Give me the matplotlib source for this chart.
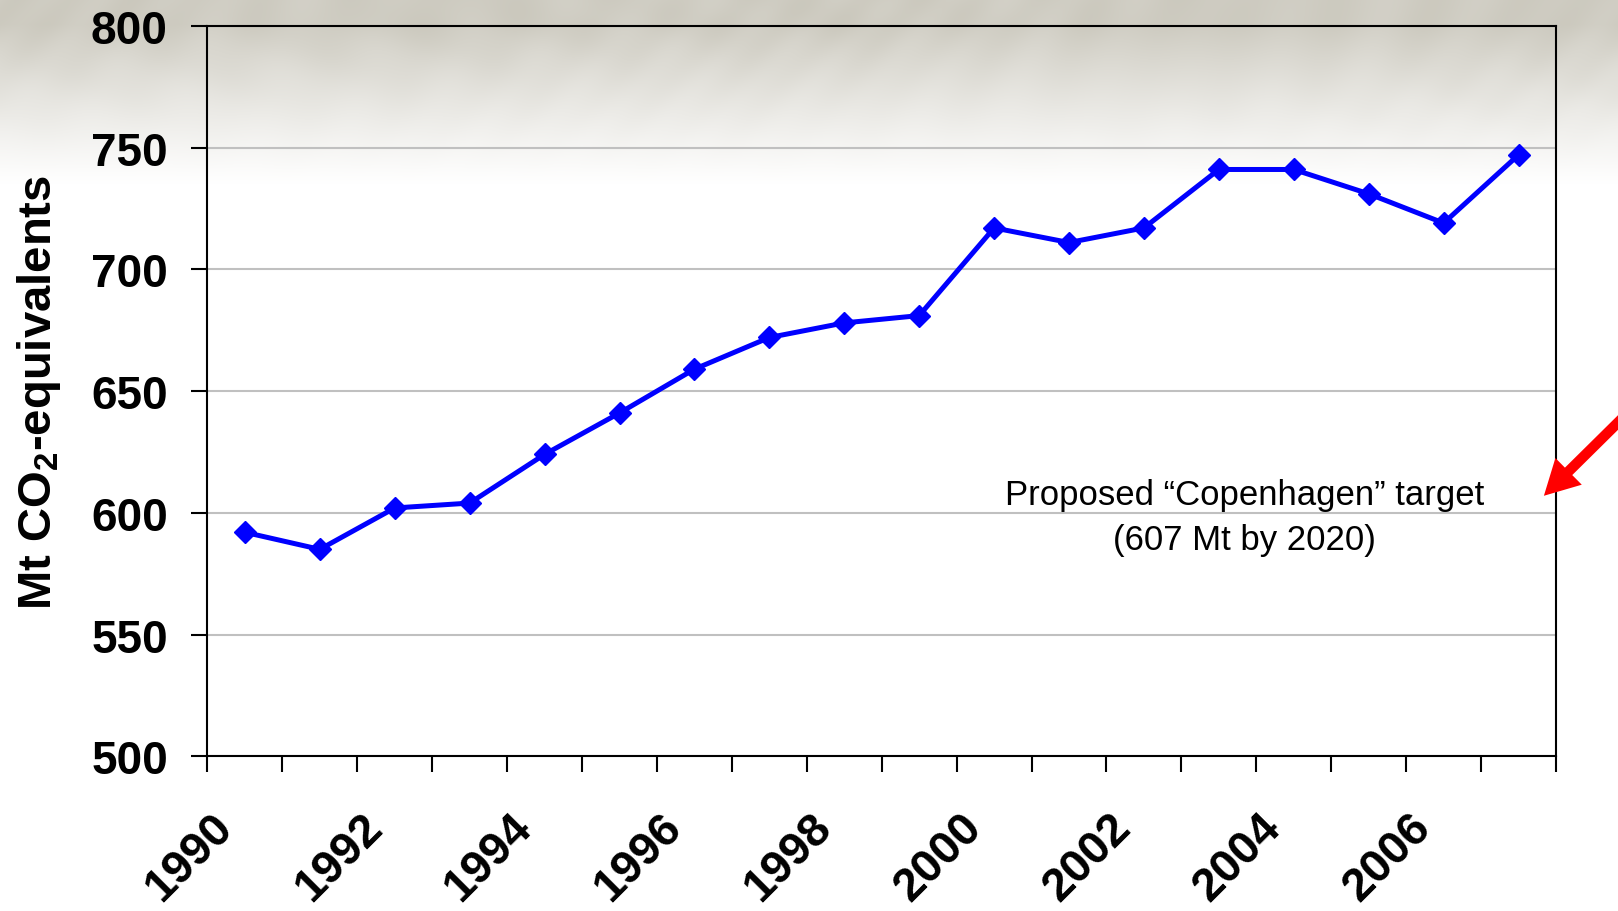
import matplotlib
matplotlib.use('Agg')
import matplotlib.pyplot as plt
import matplotlib.transforms as mtransforms
from matplotlib import font_manager
import numpy as np

# 排放数据 (Mt CO2 当量)
years = list(range(1990, 2008))
emissions = [592, 585, 602, 604, 624, 641, 659, 672, 678, 681,
             717, 711, 717, 741, 741, 731, 719, 747]
y_ticks = [500, 550, 600, 650, 700, 750, 800]
target_value = 607
target_text = 'Proposed \u201cCopenhagen\u201d target\n(607 Mt by 2020)'

plt.rcParams['font.family'] = ['Liberation Sans', 'DejaVu Sans']
plt.rcParams['font.weight'] = 'bold'
plt.rcParams['mathtext.fontset'] = 'custom'
plt.rcParams['mathtext.rm'] = 'Liberation Sans:bold'
plt.rcParams['mathtext.bf'] = 'Liberation Sans:bold'

# 注释用窄体字, 没有就用普通体
names = {f.name for f in font_manager.fontManager.ttflist}
if 'Liberation Sans Narrow' in names:
    note_font, note_size = 'Liberation Sans Narrow', 28
else:
    note_font, note_size = 'Liberation Sans', 25

fig = plt.figure(figsize=(16.18, 9.12), dpi=100)
fig.patch.set_facecolor('white')

# 顶部的灰色纹理渐变背景
bg = fig.add_axes([0, 0, 1, 1], zorder=0)
h, w = 912, 1618
yy, xx = np.mgrid[0:h, 0:w].astype(float)
fade = np.clip((185 - yy) / 160, 0, 1) ** 1.1
streak = (np.sin(xx * 0.09 + yy * 0.06 + 3 * np.sin(xx * 0.007 + yy * 0.015))
          + 0.7 * np.sin(xx * 0.05 - yy * 0.04 + 2 * np.sin(yy * 0.03 + xx * 0.004))
          + 0.5 * np.sin(xx * 0.017 + yy * 0.011)) / 2.2
dark = np.array([0.19, 0.20, 0.24])
rgb = 1 - fade[..., None] * dark * (1 + 0.08 * streak[..., None])
bg.imshow(np.clip(rgb, 0, 1), aspect='auto', extent=(0, 1, 0, 1), interpolation='bilinear')
bg.axis('off')

ax = fig.add_axes([0.1282, 0.1696, 0.8335, 0.801], zorder=1)
ax.set_facecolor('none')

x = np.arange(len(years))
ax.plot(x, emissions, color='#0000ff', lw=3.6, marker='D', ms=11, zorder=3)

ax.set_xlim(-0.5, len(years) - 0.5)
ax.set_ylim(y_ticks[0], y_ticks[-1])
ax.set_yticks(y_ticks)
ax.yaxis.grid(True, color='#c0c0c0', lw=1.5)
ax.set_axisbelow(True)

# 类别边界上的刻度线, 标签放在每隔一年的类别中间
ax.set_xticks(np.arange(-0.5, len(years)), minor=True)
ax.set_xticks(x[::2])
ax.set_xticklabels([str(y) for y in years[::2]], rotation=45, ha='right', va='top',
                   rotation_mode='anchor', fontsize=33.5, fontweight='bold')
ax.tick_params(axis='x', which='minor', length=11.5, width=1.5, direction='out')
ax.tick_params(axis='x', which='major', length=0, pad=35)
shift = mtransforms.ScaledTranslation(-35 / 100, 0, fig.dpi_scale_trans)
for lbl in ax.get_xticklabels():
    lbl.set_transform(lbl.get_transform() + shift)

ax.tick_params(axis='y', length=11.5, width=1.5, pad=17, labelsize=33)
for lbl in ax.get_yticklabels():
    lbl.set_fontweight('bold')

for sp in ax.spines.values():
    sp.set_color('black')
    sp.set_linewidth(1.5)

ax.set_ylabel(r'Mt CO$_{\mathbf{2}}$-equivalents', fontsize=34, fontweight='bold', labelpad=20)

ax.text(0.769, 0.327, target_text, transform=ax.transAxes, ha='center', va='center',
        fontsize=note_size, fontweight='normal', family=[note_font, 'DejaVu Sans'],
        linespacing=1.46)

# 指向目标值的红色箭头
ax.annotate('', xy=(0.991, target_value), xycoords=('axes fraction', 'data'),
            xytext=(1660, 912 - 382), textcoords='figure pixels',
            arrowprops=dict(facecolor='#ff0000', edgecolor='none', width=7.5,
                            headwidth=27, headlength=25, shrink=0),
            annotation_clip=False)

fig.savefig('out.png', dpi=100)
